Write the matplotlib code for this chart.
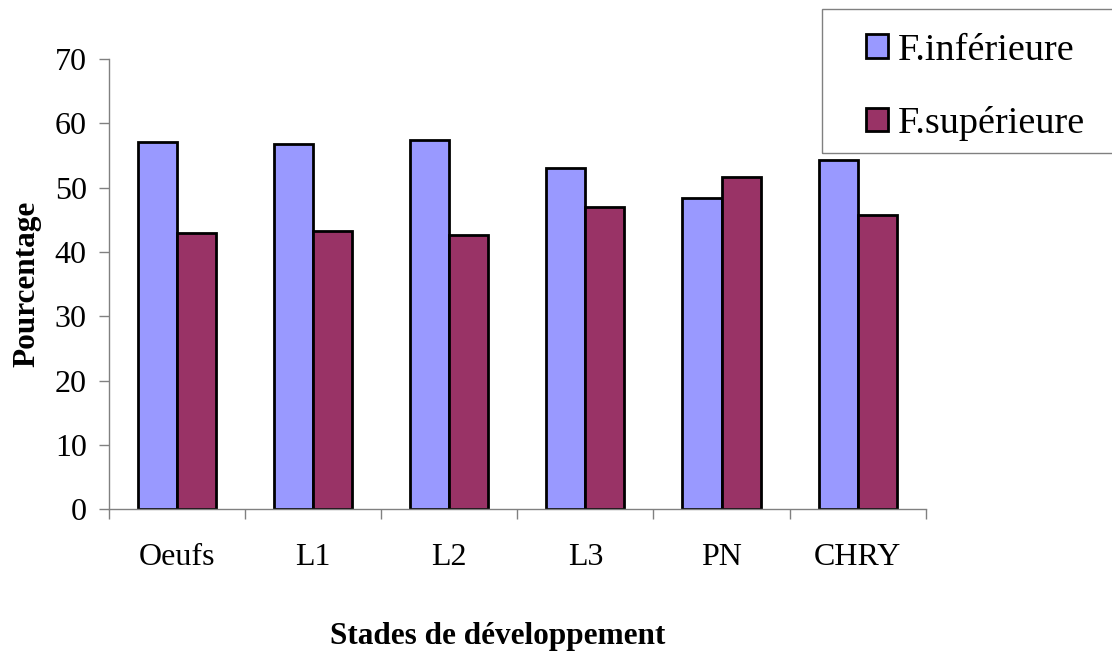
import numpy as np
import matplotlib
matplotlib.use("Agg")
import matplotlib.pyplot as plt
from matplotlib.patches import Rectangle

# stades de développement
stades = ["Oeufs", "L1", "L2", "L3", "PN", "CHRY"]
f_inferieure = [57.1, 56.7, 57.4, 53.0, 48.4, 54.2]
f_superieure = [42.9, 43.3, 42.6, 47.0, 51.6, 45.8]
yticks = [0, 10, 20, 30, 40, 50, 60, 70]

plt.rcParams['font.family'] = ['Liberation Serif', 'DejaVu Serif']

fig = plt.figure(figsize=(11.12, 6.53), dpi=100)
ax = fig.add_axes([0.098, 0.22, 0.7345, 0.69])

x = np.arange(len(stades))
w = 0.287
ax.bar(x - w / 2, f_inferieure, w, color='#9999FF', edgecolor='black',
       linewidth=2, label='F.inférieure')
ax.bar(x + w / 2, f_superieure, w, color='#993366', edgecolor='black',
       linewidth=2, label='F.supérieure')

ax.set_xlim(-0.5, len(stades) - 0.5)
ax.set_ylim(0, 70)
ax.set_yticks(yticks)
ax.tick_params(axis='y', labelsize=23, length=7, width=1, color='#808080', pad=9)
# x ticks between groups, labels at group centres
ax.set_xticks(np.arange(len(stades) + 1) - 0.5)
ax.set_xticklabels([])
ax.set_xticks(x, minor=True)
ax.set_xticklabels(stades, minor=True)
ax.tick_params(axis='x', which='major', length=7, width=1, color='#808080')
ax.tick_params(axis='x', which='minor', length=0, labelsize=23, pad=24)

for s in ['top', 'right']:
    ax.spines[s].set_visible(False)
for s in ['left', 'bottom']:
    ax.spines[s].set_color('#808080')
    ax.spines[s].set_linewidth(1)

fig.text(0.024, 0.565, 'Pourcentage', rotation=90, ha='center', va='center',
         fontsize=22.5, fontweight='bold')
fig.text(0.448, 0.025, 'Stades de développement', ha='center', va='center',
         fontsize=22.5, fontweight='bold')

# legend frame drawn by hand so padding can differ per side
fig.add_artist(Rectangle((0.739, 1 - 153 / 653), 0.27, 144 / 653,
                         transform=fig.transFigure, fill=False,
                         edgecolor='#808080', linewidth=1))
fig.legend(loc='upper left', bbox_to_anchor=(0.7785, 0.949),
           borderaxespad=0, borderpad=0, frameon=False, fontsize=27.5,
           handlelength=0.58, handleheight=0.58, handletextpad=0.26,
           labelspacing=1.0)

fig.savefig('out.png', dpi=100)
